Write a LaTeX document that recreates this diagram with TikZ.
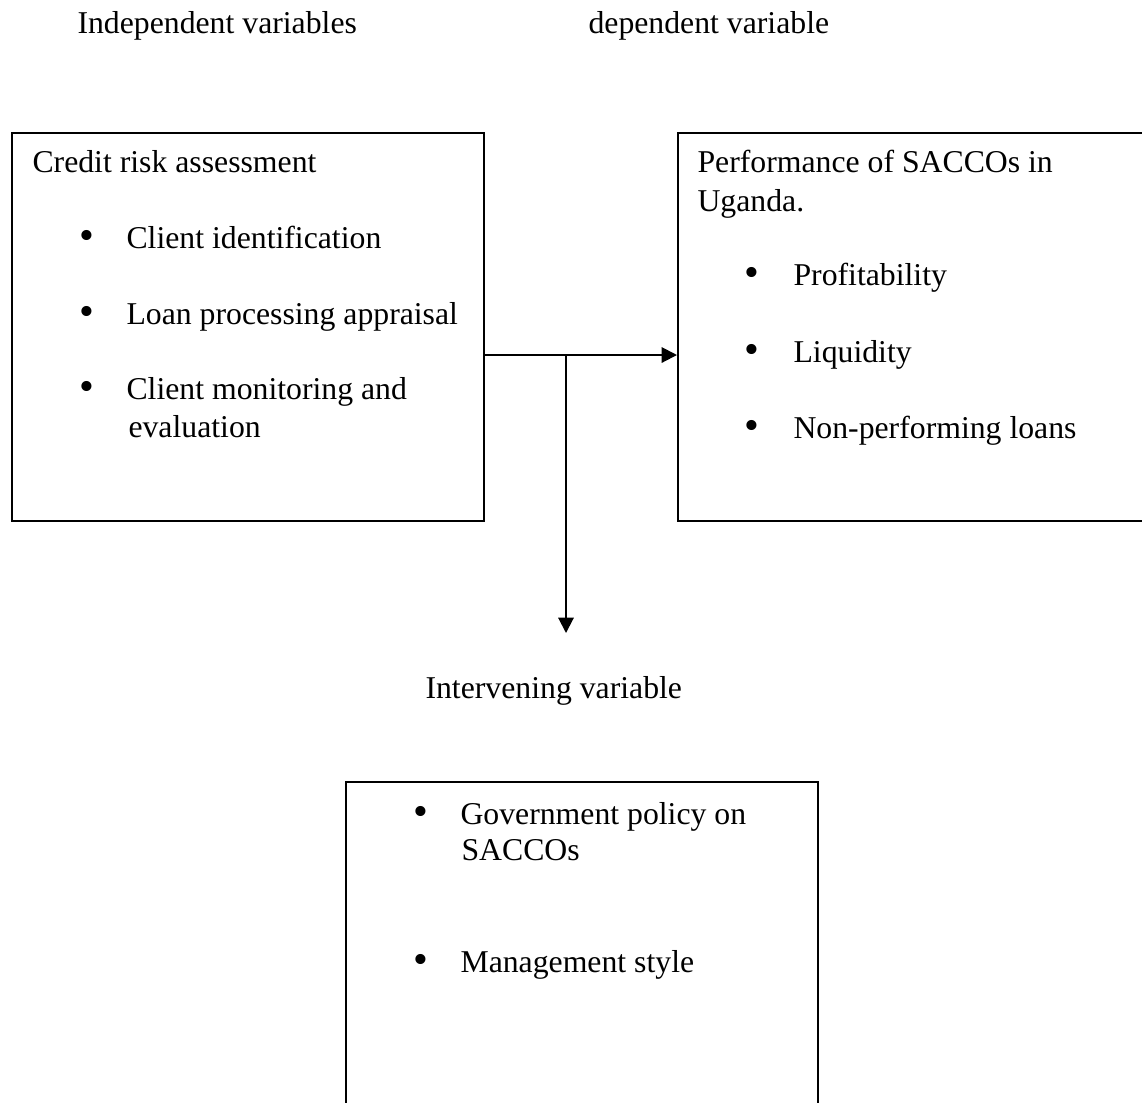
\documentclass[tikz,border=0pt]{standalone}
\usepackage{fontspec}
\setmainfont{Liberation Serif}
\usepackage{tikz}
\usetikzlibrary{positioning}
\usetikzlibrary{arrows.meta}
\newdimen\pxu
\pxu=0.378pt

\begin{document}
\begin{tikzpicture}[
        x=0.378pt, y=-0.378pt,
        every node/.style={font=\fontsize{12pt}{14.7pt}\selectfont, inner sep=0pt},
        varbox/.style={draw=black, line width=0.65pt, anchor=north west},
        txt/.style={anchor=base west},
        bulletmark/.style={anchor=base, font=\fontsize{16pt}{14.7pt}\selectfont},
        link/.style={line width=0.75pt, -{Triangle[length=5.8pt,width=5.8pt]}}
    ]
    \useasboundingbox (0,0) rectangle (1142,1102);
    \clip (0,0) rectangle (1142,1102);

    % headings
    \node[txt] (indeplabel) at (77,33) {Independent variables};
    \node[txt] (deplabel) at (588,33) {dependent variable};
    \node[txt] (intervlabel) at (425,698) {Intervening variable};

    % boxes
    \node[varbox, minimum width=472\pxu, minimum height=388\pxu] (indep) at (11,132) {};
    \node[varbox, minimum width=520\pxu, minimum height=388\pxu] (dep) at (677,132) {};
    \node[varbox, minimum width=472\pxu, minimum height=420\pxu] (interv) at (345,781) {};

    % independent variables
    \node[txt] (credit) at (32,172) {Credit risk assessment};
    \node[bulletmark] (b1) at (87,249) {•};
    \node[txt] (clientid) at (126,248) {Client identification};
    \node[bulletmark] (b2) at (87,325) {•};
    \node[txt] (loan) at (126,324) {Loan processing appraisal};
    \node[bulletmark] (b3) at (87,400) {•};
    \node[txt] (monitor) at (126,399) {Client monitoring and};
    \node[txt] (evaluation) at (128,437) {evaluation};

    % dependent variable
    \node[txt] (perf) at (697,172) {Performance of SACCOs in};
    \node[txt] (uganda) at (697,211) {Uganda.};
    \node[bulletmark] (b4) at (752,286) {•};
    \node[txt] (profit) at (793,285) {Profitability};
    \node[bulletmark] (b5) at (752,363) {•};
    \node[txt] (liquid) at (793,362) {Liquidity};
    \node[bulletmark] (b6) at (752,439) {•};
    \node[txt] (npl) at (793,438) {Non-performing loans};

    % intervening variable
    \node[bulletmark] (b7) at (421,825) {•};
    \node[txt] (policy) at (460,824) {Government policy on};
    \node[txt] (saccos) at (461,860) {SACCOs};
    \node[bulletmark] (b8) at (421,973) {•};
    \node[txt] (mgmt) at (460,972) {Management style};

    % connectors
    \coordinate (split) at (566,355);
    \coordinate (down) at (566,633);
    \draw[link] (indep.east |- split) -- (dep.west |- split);
    \draw[link] (split) -- (down);
\end{tikzpicture}
\end{document}
